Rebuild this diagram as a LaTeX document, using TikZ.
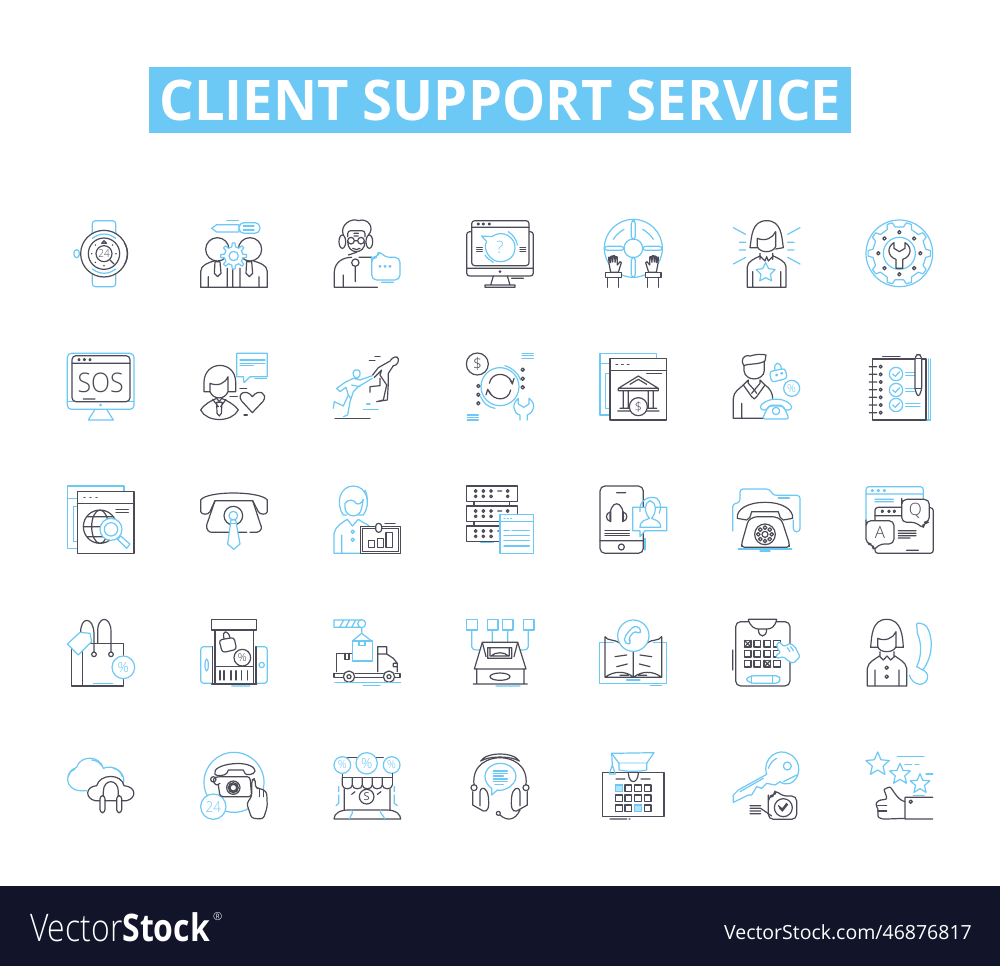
\documentclass[tikz,border=0pt]{standalone}
\usepackage{fontspec}
\setmainfont{Open Sans}
\newfontfamily\lightf{Open Sans Light}
\usetikzlibrary{calc}
\definecolor{ink}{HTML}{4B4B57}
\definecolor{sky}{HTML}{6CC8F5}
\definecolor{band}{HTML}{12142A}
\tikzset{
 dk/.style={draw=ink,line width=1.2pt,line cap=round,line join=round},
 bl/.style={draw=sky,line width=1.2pt,line cap=round,line join=round},
 wf/.style={fill=white},
 crop/.style 2 args={shift={(#1,#2)},x=.33333pt,y=-.33333pt},
 rc/.style={rounded corners=3pt},
 lab/.style={inner sep=0pt,text=ink},
 labb/.style={inner sep=0pt,text=sky}
}
\newcommand\igear[6]{%
 \pgfmathsetmacro\hw{90/#5}%
 \draw[#6,fill=white] ({#1+#3*cos(\hw)},{#2+#3*sin(\hw)})
  \foreach \i [evaluate=\i as \a using {360*\i/#5}] in {1,...,#5}{
   -- ({#1+#3*cos(\a-\hw)},{#2+#3*sin(\a-\hw)})
   -- ({#1+#4*cos(\a-.55*\hw)},{#2+#4*sin(\a-.55*\hw)})
   -- ({#1+#4*cos(\a+.55*\hw)},{#2+#4*sin(\a+.55*\hw)})
   -- ({#1+#3*cos(\a+\hw)},{#2+#3*sin(\a+\hw)})
  } -- cycle;}
\newcommand\istar[5]{\draw[#5,fill=white] (#1,#2)+(270:#3) -- +(306:#4) -- +(342:#3) -- +(18:#4) -- +(54:#3) -- +(90:#4) -- +(126:#3) -- +(162:#4) -- +(198:#3) -- +(234:#4) -- cycle;}
\newcommand\pctxt[5]{\node[#4,font=\lightf\fontsize{#3}{#3}\selectfont] (#5) at (#1,#2) {\%};}
\begin{document}
\begin{tikzpicture}[x=1pt,y=-1pt]
\path[use as bounding box,fill=white] (0,0) rectangle (1000,966);
\fill[band] (0,886) rectangle (1000,966);
\fill[sky] (149,67) rectangle (851,133);
\node[inner sep=0pt,text=white,font=\fontsize{56}{56}\bfseries\selectfont,xscale=0.97] (title) at (500.5,100) {CLIENT SUPPORT SERVICE};
\node[inner sep=0pt,anchor=base west,text=white,font=\fontsize{38}{38}\selectfont,xscale=.84] (vs) at (30,941) {{\lightf Vector}\textbf{Stock}};
\node[inner sep=0pt,anchor=base west,text=white,font=\lightf\fontsize{11}{11}\selectfont] (vsr) at (213,920) {®};
\node[inner sep=0pt,anchor=base east,text=white,font=\fontsize{19.5}{19.5}\selectfont,xscale=1] (vsu) at (972,939) {VectorStock.com/46876817};

%% ---------- crop A: rows 1-2 left
\begin{scope}[crop={50}{200}]
% watch
\draw[bl,wf,rc] (127,112) -- (127,62) -- (197,62) -- (197,112);
\draw[bl,wf,rc] (127,210) -- (127,260) -- (197,260) -- (197,210);
\draw[dk,wf] (162,161) circle[radius=70];
\draw[dk] (224,130) .. controls (236,150) and (236,172) .. (224,192);
\draw[bl] (127,115) .. controls (150,98) and (175,98) .. (197,115);
\draw[bl] (127,207) .. controls (150,224) and (175,224) .. (197,207);
\draw[bl,rc] (72,149) rectangle (88,173);
\draw[dk] (162,161) circle[radius=47] (162,161) circle[radius=24];
\node[lab,font=\lightf\fontsize{11}{11}\selectfont,xscale=.9] (t24a) at (162,161) {24};
\draw[dk] (155,130) -- (162,122) -- (170,130) -- cycle (180,180) -- (192,192);
\fill[ink] (125,161) circle[radius=2.5] (198,161) circle[radius=2.5] (162,197) circle[radius=2.5] (136,135) circle[radius=2.5] (188,135) circle[radius=2.5] (136,187) circle[radius=2.5];
% team and gear
\draw[bl,wf] (485,85) -- (500,74) -- (567,74) -- (567,96) -- (500,96) -- cycle;
\draw[bl,wf,rounded corners=5pt] (567,68) -- (630,68) -- (630,100) -- (567,100) -- cycle;
\draw[bl] (580,78) -- (612,78) (580,90) -- (612,90) (530,62) -- (565,62);
\draw[dk,wf] (502,148) circle[radius=35] (600,148) circle[radius=35];
\draw[dk] (452,262) -- (452,215) .. controls (452,195) and (475,188) .. (495,182) (652,262) -- (652,215) .. controls (652,195) and (628,188) .. (608,182) (452,262) -- (652,262) (475,262) -- (475,230) (627,262) -- (627,230) (532,262) -- (532,205) (548,262) -- (548,205) (570,262) -- (570,205);
\draw[dk] (495,185) -- (510,185) -- (513,220) -- (503,230) -- (493,220) -- cycle (590,185) -- (605,185) -- (608,220) -- (598,230) -- (588,220) -- cycle;
\igear{551}{168}{28}{39}{8}{bl}
\draw[bl] (551,168) circle[radius=14];
% woman with headset
\draw[dk] (880,105) .. controls (868,75) and (905,52) .. (925,62) .. controls (955,52) and (975,85) .. (955,105);
\draw[dk,rc] (893,110) -- (893,92) -- (945,92) -- (945,110);
\draw[dk] (893,125) .. controls (893,165) and (945,165) .. (945,125);
\draw[dk] (877,125) ellipse[x radius=10,y radius=20] (958,125) ellipse[x radius=10,y radius=20];
\draw[dk] (903,122) circle[radius=10] (933,122) circle[radius=10] (913,122) -- (923,122) (912,100) -- (925,100) (912,108) -- (925,108) (908,145) .. controls (915,150) and (925,150) .. (930,145) (895,165) -- (920,157);
\draw[dk] (916,188) circle[radius=11] (916,199) -- (916,245) (880,262) -- (880,225);
\draw[dk] (853,262) -- (853,215) .. controls (855,185) and (880,172) .. (905,172) (927,172) -- (965,172) (853,262) -- (982,262);
\draw[bl,wf,rounded corners=5pt] (965,185) -- (965,240) -- (1050,240) -- (1050,172) -- (1005,172) -- (985,150) -- (985,172) -- (965,172) -- cycle;
\draw[bl] (990,199) circle[radius=2.5] (1005,199) circle[radius=2.5] (1020,199) circle[radius=2.5] (995,247) -- (1030,247);
% SOS monitor
\draw[bl,rounded corners=4pt] (52,460) rectangle (252,628);
\draw[bl] (52,605) -- (252,605);
\draw[dk,wf,rounded corners=4pt] (66,467) rectangle (240,605);
\draw[dk] (66,490) -- (240,490) (87,479) circle[radius=3] (103,479) circle[radius=3] (120,479) circle[radius=3] (100,597) -- (135,597);
\node[lab,font=\lightf\fontsize{27}{27}\selectfont,xscale=.92] (sos) at (152,550) {SOS};
\fill[sky] (152,615) circle[radius=4.5];
\draw[bl] (135,628) -- (115,660) -- (190,660) -- (170,628);
% woman heart
\draw[dk] (480,575) -- (462,575) -- (462,545) .. controls (465,480) and (555,480) .. (557,545) -- (557,575) -- (535,575);
\draw[dk] (480,550) -- (480,575) .. controls (490,600) and (525,600) .. (534,575) -- (534,530) .. controls (525,550) and (505,560) .. (480,550);
\draw[dk] (452,630) .. controls (465,610) and (485,602) .. (500,595) -- (508,605) -- (515,595) .. controls (530,602) and (550,610) .. (565,630) .. controls (545,668) and (470,668) .. (452,630) -- cycle;
\draw[dk] (500,607) -- (516,607) -- (514,640) -- (508,648) -- (501,640) -- cycle (488,598) -- (505,620) (528,598) -- (512,620);
\draw[bl] (560,460) -- (652,460) -- (652,530) -- (600,530) -- (582,548) -- (580,530) -- (560,530) -- cycle;
\draw[bl] (570,480) -- (645,480) (570,490) -- (645,490) (570,497) -- (610,497) (615,535) -- (650,535);
\draw[dk] (607,638) -- (575,603) .. controls (558,580) and (590,565) .. (607,590) .. controls (625,565) and (655,580) .. (640,603) -- cycle;
\draw[dk] (570,565) -- (590,565) (540,590) -- (562,590) (582,645) -- (592,645);
% running
\draw[bl,rc] (907,513) -- (925,507) -- (933,520) -- (925,535) -- (913,535) -- cycle;
\draw[bl] (967,527) -- (930,540) -- (910,535) -- (885,547) -- (860,565) -- (870,575) -- (888,562) -- (895,585) -- (880,618) -- (853,605) -- (850,625);
\draw[bl] (967,535) -- (925,560) -- (910,575) -- (900,605) -- (893,645) -- (880,650) (895,585) -- (902,595) (930,560) -- (905,555);
\draw[dk,rc] (1022,480) -- (1035,468) -- (1048,475) -- (1040,497) -- (1030,497);
\draw[dk] (1022,482) -- (985,503) -- (968,525) (973,532) -- (995,510) -- (990,525) -- (1010,555) -- (1000,600) -- (980,605) (1030,497) -- (1015,520) -- (1015,550) -- (1012,600) -- (980,605) (990,535) -- (990,557) -- (960,560) -- (960,577);
\draw[dk] (958,482) -- (975,482) (975,470) -- (990,470) (855,655) -- (960,655);
\draw[bl] (950,612) -- (960,612) (940,628) -- (985,628);
\end{scope}

%% ---------- crop B: rows 1-2 right
\begin{scope}[crop={450}{200}]
% monitor with question
\draw[dk,rc] (65,95) -- (50,95) -- (50,228) -- (250,228) -- (250,95) -- (237,95);
\draw[dk,wf,rc] (65,62) rectangle (237,197);
\draw[dk] (65,82) -- (237,82) (50,205) -- (250,205) (85,72) circle[radius=3] (100,72) circle[radius=3] (118,72) circle[radius=3] (130,228) -- (122,255) (172,228) -- (180,255) (105,255) rectangle (195,262) (185,235) -- (220,235);
\fill[ink] (150,215) circle[radius=4.5];
\draw[dk] (80,143) -- (97,143) (80,149) -- (97,149) (80,155) -- (97,155) (210,143) -- (227,143) (210,149) -- (227,149) (210,155) -- (227,155);
\draw[bl,wf] (95,108) -- (125,110) .. controls (160,85) and (197,115) .. (195,143) .. controls (195,175) and (165,192) .. (135,182) .. controls (110,170) and (100,140) .. (110,125) -- cycle;
\draw[bl] (175,95) .. controls (190,105) and (200,120) .. (202,135) (105,165) .. controls (112,175) and (120,182) .. (130,187);
\node[labb,font=\lightf\fontsize{17}{17}\selectfont] (q1) at (150,141) {?};
% lifebuoy
\draw[bl] (550,145) circle[radius=87] (550,145) circle[radius=28];
\draw[bl,wf,rc] (544,62) rectangle (556,118) (544,172) rectangle (556,232) (463,139) rectangle (522,151) (578,139) rectangle (637,151);
\draw[bl] (490,118) .. controls (498,105) and (510,95) .. (522,88) (610,118) .. controls (602,105) and (590,95) .. (578,88);
\draw[dk,wf] (482,217) -- (477,190) -- (476,172) -- (479,172) -- (482,188) -- (482,170) -- (486,168) -- (488,186) -- (490,167) -- (494,167) -- (495,187) -- (498,170) -- (502,171) -- (502,195) -- (510,185) -- (514,188) -- (505,217) -- cycle;
\draw[dk,wf] (619,217) -- (624,190) -- (625,172) -- (622,172) -- (619,188) -- (619,170) -- (615,168) -- (613,186) -- (611,167) -- (607,167) -- (606,187) -- (603,170) -- (599,171) -- (599,195) -- (591,185) -- (587,188) -- (596,217) -- cycle;
\draw[dk,wf] (467,217) rectangle (515,232) (587,217) rectangle (633,232);
\draw[dk] (472,232) -- (472,262) (505,232) -- (505,262) (592,232) -- (592,262) (625,232) -- (625,262);
% woman star
\draw[dk] (922,143) -- (900,143) .. controls (905,110) and (905,62) .. (950,62) .. controls (995,62) and (995,110) .. (1000,143) -- (977,147);
\draw[dk] (922,115) -- (922,140) .. controls (930,160) and (968,160) .. (977,140) -- (977,95) .. controls (968,115) and (945,125) .. (922,115);
\draw[dk] (930,160) -- (930,178) (968,160) -- (968,178) (930,168) -- (945,183) -- (950,170) -- (955,183) -- (970,168);
\draw[dk] (892,262) -- (892,200) .. controls (892,185) and (915,175) .. (930,168) (1008,262) -- (1008,200) .. controls (1008,185) and (985,175) .. (970,168) (892,262) -- (1008,262) (908,262) -- (908,215) (992,262) -- (992,215);
\istar{947}{218}{30}{15}{bl}
\draw[bl] (850,83) -- (887,103) (868,127) -- (887,127) (868,150) -- (887,150) (850,192) -- (887,172) (1050,83) -- (1013,103) (1013,127) -- (1032,127) (1013,150) -- (1032,150) (1050,192) -- (1013,172);
% gear wrench
\draw[bl] (1348,160) circle[radius=100];
\igear{1348}{160}{80}{94}{10}{bl}
\draw[bl] (1348,160) circle[radius=48];
\foreach \a in {0,45,...,315} {\draw[dk] (1348,160)+(\a:63) circle[radius=5];}
\draw[dk,wf] (1332,128) .. controls (1310,140) and (1312,170) .. (1338,178) -- (1338,205) -- (1358,205) -- (1358,178) .. controls (1385,170) and (1387,140) .. (1365,128) -- (1365,145) -- (1348,155) -- (1332,145) -- cycle;
% money cycle
\draw[dk] (82,492) circle[radius=33];
\node[lab,font=\lightf\fontsize{16}{16}\selectfont] (dol) at (82,492) {\$};
\draw[bl] (150,560) circle[radius=57] (165,497) .. controls (185,502) and (205,520) .. (212,540) (92,590) .. controls (100,610) and (115,622) .. (135,625);
\draw[dk] (118,550) .. controls (125,515) and (170,515) .. (185,545) (178,535) -- (187,552) -- (192,535) (182,570) .. controls (175,605) and (130,605) .. (115,572) (108,585) -- (113,568) -- (123,582);
\foreach \x/\y in {218/509,218/536,218/562,85/558,85/584,85/610} {\draw[dk] (\x,\y) circle[radius=5];}
\draw[bl] (216,460) -- (250,460) (216,467) -- (250,467) (216,475) -- (250,475) (52,645) -- (85,645) (52,652) -- (85,652) (52,660) -- (85,660);
\draw[bl,wf] (210,660) -- (210,645) .. controls (190,640) and (183,612) .. (205,595) -- (205,612) -- (221,622) -- (237,612) -- (237,595) .. controls (258,610) and (255,635) .. (232,645) -- (232,660);
% bank
\draw[bl] (450,460) rectangle (620,645);
\draw[bl] (450,490) -- (480,490) (480,520) -- (467,520) -- (467,625) -- (480,625);
\draw[dk,wf] (480,475) rectangle (650,660);
\draw[dk] (480,512) -- (650,512) (590,520) -- (635,520) (498,493) -- (503,493) (515,493) -- (520,493) (532,493) -- (537,493);
\draw[dk] (505,565) -- (565,528) -- (625,565) -- cycle (540,553) -- (565,538) -- (590,553) (505,565) rectangle (625,572) (520,572) -- (520,625) (535,572) -- (535,625) (595,572) -- (595,625) (610,572) -- (610,625) (510,625) -- (620,625) (503,633) -- (627,633);
\draw[dk,wf] (565,620) circle[radius=27];
\node[lab,font=\lightf\fontsize{13}{13}\selectfont] (ds) at (565,620) {\$};
% man phone
\draw[dk] (882,497) .. controls (870,480) and (880,463) .. (900,468) .. controls (920,462) and (935,462) .. (948,465) -- (945,483) .. controls (925,495) and (895,490) .. (882,497);
\draw[dk] (882,497) -- (882,512) .. controls (885,545) and (940,545) .. (943,512) -- (943,483);
\draw[dk] (850,655) -- (850,595) .. controls (850,575) and (870,565) .. (880,555) -- (895,540) -- (895,550) -- (913,570) -- (930,550) -- (930,540) -- (945,555) .. controls (960,565) and (968,580) .. (968,595);
\draw[dk] (880,555) -- (905,590) -- (913,597) -- (920,590) -- (945,555) (850,655) -- (940,655) (875,655) -- (875,610) (905,580) -- (913,570) -- (920,580);
\draw[bl,wf,rc] (958,515) -- (1005,505) -- (1012,535) -- (965,547) -- cycle;
\draw[bl] (975,512) .. controls (970,485) and (990,480) .. (995,508) (980,525) circle[radius=2.5] (995,520) circle[radius=2.5];
\draw[bl] (1025,565) circle[radius=24];
\pctxt{1025}{565}{11}{labb}{pc1}
\draw[bl,wf,rc] (955,618) -- (937,657) -- (1018,657) -- (1000,618) -- cycle;
\draw[bl,wf,rc] (932,630) .. controls (930,610) and (960,598) .. (978,598) .. controls (1000,598) and (1025,610) .. (1025,630) -- (1002,630) -- (1000,616) -- (955,616) -- (953,630) -- cycle;
\draw[bl] (978,633) circle[radius=11];
% notebook
\draw[bl] (1435,477) -- (1435,660) (1442,477) -- (1442,660) -- (1428,660);
\draw[dk,wf] (1267,477) rectangle (1428,660);
\draw[dk] (1298,470) -- (1350,470);
\foreach \y in {500,523,546,569,592,615,638} {\draw[dk] (1292,\y) circle[radius=4.5] (1258,\y) -- (1280,\y);}
\foreach \y in {522,570,615} {\draw[bl] (1338,\y) circle[radius=20] (1328,\y) -- (1336,\y+7) -- (1349,\y-7);}
\draw[bl] (1367,517) -- (1393,517) (1367,527) -- (1393,527) (1367,565) -- (1393,565) (1367,575) -- (1393,575) (1367,610) -- (1410,610) (1367,620) -- (1410,620);
\draw[dk,wf,rc] (1395,570) -- (1395,470) -- (1405,460) -- (1415,470) -- (1415,570) -- (1405,592) -- cycle;
\draw[dk] (1395,475) -- (1415,475) (1395,565) -- (1415,565);
\end{scope}

%% ---------- crop C: rows 3-4 left
\begin{scope}[crop={50}{470}]
% web globe
\draw[bl] (52,48) rectangle (222,235) (52,85) -- (82,85) (82,110) -- (70,110) -- (70,215) -- (82,215);
\draw[dk,wf] (82,65) rectangle (252,250);
\draw[dk] (82,100) -- (252,100) (102,83) -- (105,83) (120,83) -- (123,83) (138,83) -- (141,83) (198,118) -- (235,118) (198,128) -- (235,128);
\draw[dk] (150,170) circle[radius=50] (150,170) ellipse[x radius=25,y radius=50] (100,170) -- (200,170) (112,140) -- (188,140) (112,200) -- (188,200);
\draw[bl,wf] (183,178) circle[radius=33];
\draw[bl] (183,178) circle[radius=20];
\draw[bl,wf] (212,198) -- (240,222) -- (230,235) -- (203,208) -- cycle;
% phone tie
\draw[dk] (480,125) .. controls (475,135) and (455,135) .. (452,125) -- (452,90) .. controls (470,62) and (630,62) .. (652,90) -- (652,125) .. controls (650,135) and (630,135) .. (625,125) -- (608,92) -- (495,92) -- cycle;
\draw[dk] (495,92) -- (470,165) .. controls (468,180) and (478,187) .. (485,187) -- (537,187) (565,187) -- (590,187) (600,187) -- (620,187) .. controls (635,185) and (637,170) .. (632,165) -- (608,92);
\draw[dk] (550,137) circle[radius=28];
\draw[bl] (550,137) circle[radius=13];
\draw[bl,wf] (543,150) -- (557,150) -- (570,222) -- (551,238) -- (533,222) -- cycle;
\draw[bl] (544,160) -- (556,160);
% woman chart
\draw[bl] (880,135) .. controls (855,100) and (870,48) .. (910,48) .. controls (950,48) and (965,100) .. (940,135) -- (925,135) (880,135) -- (890,135);
\draw[bl] (885,100) .. controls (895,85) and (915,90) .. (918,100) .. controls (925,105) and (935,100) .. (940,88) (885,100) -- (885,115) .. controls (890,145) and (930,145) .. (935,115) -- (940,88) (945,60) .. controls (950,70) and (952,80) .. (952,90);
\draw[bl] (852,250) -- (852,190) .. controls (855,170) and (880,155) .. (892,148) -- (907,168) -- (925,148) .. controls (935,155) and (945,160) .. (957,167) (852,250) -- (930,250) (875,250) -- (875,195) (908,185) circle[radius=5] (908,209) circle[radius=5];
\draw[dk,wf] (932,170) rectangle (1052,250) (938,176) rectangle (1046,244);
\draw[dk] (955,212) rectangle (973,232) (982,205) rectangle (1000,232) (1008,188) rectangle (1028,232) (1005,160) -- (1035,160);
\draw[dk,wf,rc] (977,160) rectangle (995,187);
% bag
\draw[dk] (65,520) rectangle (220,648) (97,520) -- (97,648);
\draw[dk] (132,546) -- (132,490) .. controls (130,438) and (90,438) .. (92,490) (183,546) -- (183,485) .. controls (183,435) and (140,435) .. (143,490) -- (143,518);
\draw[dk] (132,553) circle[radius=7] (183,553) circle[radius=7];
\draw[bl,wf] (52,522) -- (90,487) -- (120,490) -- (125,515) -- (85,555) -- cycle;
\draw[bl,wf] (220,592) circle[radius=34];
\pctxt{220}{592}{14}{labb}{pc2}
\draw[bl] (130,640) -- (188,640);
% mobile store
\draw[bl,rc] (487,530) -- (452,530) -- (452,640) -- (487,640) (618,530) -- (652,530) -- (652,640) -- (618,640);
\draw[bl] (470,585) ellipse[x radius=5,y radius=18] (635,585) circle[radius=8] (545,648) -- (600,648);
\draw[dk] (485,448) rectangle (620,480) (495,480) -- (495,642) (610,480) -- (610,642) (487,530) -- (487,642) (618,530) -- (618,642) (485,642) -- (620,642) (495,590) -- (610,590);
\foreach \x in {510,522,543,558,574,592} {\draw[dk] (\x,602) -- (\x,630);}
\draw[dk,wf,rc] (507,510) -- (552,502) -- (560,538) -- (517,548) -- cycle;
\draw[dk] (522,506) .. controls (515,478) and (535,480) .. (540,503);
\draw[dk,wf] (577,563) circle[radius=25];
\pctxt{577}{563}{11}{lab}{pc3}
% truck
\draw[bl] (852,450) rectangle (935,472) (870,470) -- (880,452) (888,470) -- (898,452) (906,470) -- (916,452);
\draw[bl,wf] (935,461) circle[radius=12];
\draw[bl] (935,473) -- (935,490) (907,513) -- (935,490) -- (965,513);
\draw[dk] (860,605) -- (860,550) -- (907,550) (885,550) -- (885,568) -- (897,568) -- (897,550);
\draw[dk] (983,605) -- (983,530) -- (1010,530) -- (1010,552) -- (1030,565) -- (1042,580) -- (1042,605) (1030,580) rectangle (1042,590) (983,552) -- (1010,552);
\draw[dk] (852,610) -- (880,610) (915,610) -- (1000,610) (1035,610) -- (1050,610) -- (1050,622) -- (1035,622) (915,622) -- (1000,622) (852,622) -- (880,622) (852,610) -- (852,622);
\draw[dk] (897,620) circle[radius=17] (897,620) circle[radius=6] (1017,620) circle[radius=17] (1017,620) circle[radius=6];
\draw[bl,wf] (907,513) rectangle (967,573);
\draw[bl] (927,513) -- (927,527) -- (945,527) -- (945,513) (855,638) -- (1052,638) (940,646) -- (990,646);
\end{scope}

%% ---------- crop D: rows 3-4 right
\begin{scope}[crop={450}{470}]
% servers
\foreach \y in {48,108,168} {\draw[dk] (50,\y) rectangle (202,\y+46);
 \foreach \x in {77,100,123} {\draw[dk] (\x,\y+15) circle[radius=4] (\x,\y+31) circle[radius=4];}
 \draw[dk] (173,\y+15) circle[radius=4] (173,\y+31) circle[radius=4] (143,\y+15) -- (155,\y+15);}
\draw[dk] (72,95) -- (72,108) (178,95) -- (178,108) (72,155) -- (72,168) (178,155) -- (178,168);
\draw[bl,wf] (150,133) rectangle (250,250);
\draw[bl] (150,155) -- (250,155) (162,145) -- (165,145) (172,145) -- (175,145) (182,145) -- (185,145) (162,182) -- (178,182) (186,182) -- (238,182) (162,197) -- (238,197) (162,212) -- (238,212) (162,228) -- (238,228) (92,218) -- (130,218);
% mobile
\draw[dk,rounded corners=5pt] (450,48) rectangle (580,250);
\draw[dk] (500,68) -- (527,68) (514,231) circle[radius=9] (450,212) -- (580,212);
\draw[dk] (480,150) .. controls (475,85) and (525,85) .. (520,150);
\draw[dk] (482,125) .. controls (465,130) and (465,150) .. (482,155) -- cycle (518,125) .. controls (535,130) and (535,150) .. (518,155) -- cycle;
\draw[dk] (465,182) -- (538,182) (465,190) -- (538,190) (465,197) -- (538,197);
\draw[bl,wf] (548,112) -- (650,112) -- (650,182) -- (585,182) -- (570,200) -- (570,182) -- (548,182) -- cycle;
\draw[bl] (585,240) -- (585,205) (548,130) -- (548,112);
\draw[bl,wf] (570,172) .. controls (570,150) and (590,150) .. (598,145) .. controls (580,125) and (585,95) .. (600,92) .. controls (618,95) and (622,125) .. (605,145) .. controls (612,150) and (632,150) .. (632,172) -- cycle;
\draw[bl] (570,125) .. controls (565,90) and (600,75) .. (620,85) .. controls (632,95) and (635,110) .. (628,130);
% folder phone
\draw[bl,rc] (848,183) -- (848,102) -- (870,97) -- (870,57) -- (958,57) -- (970,76) -- (1050,76) -- (1050,185) -- (1030,185) -- (1030,150);
\draw[bl] (985,84) -- (1018,84) (865,237) -- (1025,237) (930,243) -- (960,243);
\draw[dk,wf,rc] (895,150) -- (875,220) -- (875,232) -- (1018,232) -- (1018,220) -- (995,150) -- (975,140) -- (915,140) -- cycle;
\draw[dk,wf] (862,145) .. controls (858,120) and (890,97) .. (945,97) .. controls (1000,97) and (1030,120) .. (1028,145) -- (1000,150) .. controls (990,148) and (990,140) .. (985,125) -- (905,125) .. controls (900,140) and (900,148) .. (890,150) -- cycle;
\draw[dk] (945,193) circle[radius=31] (945,193) circle[radius=9];
\foreach \a in {0,45,...,315} {\draw[dk] (945,193)+(\a:20) circle[radius=5.5];}
% QA
\draw[bl,rc] (1248,150) -- (1248,50) -- (1420,50) -- (1420,112);
\draw[bl] (1248,72) -- (1420,72) (1267,62) circle[radius=3] (1285,62) circle[radius=3] (1303,62) circle[radius=3] (1275,88) -- (1330,88) (1275,95) -- (1330,95);
\draw[dk,rc] (1275,152) -- (1275,112) -- (1360,112) (1437,113) -- (1450,113) -- (1450,250) -- (1275,250) -- (1275,222);
\draw[dk] (1275,137) -- (1355,137) (1297,124) circle[radius=3.5] (1317,124) circle[radius=3.5] (1333,124) circle[radius=3.5] (1345,182) -- (1398,182) (1345,190) -- (1398,190) (1345,197) -- (1398,197) (1345,204) -- (1380,204) (1370,241) -- (1405,241);
\draw[dk,wf,rounded corners=5pt] (1248,165) -- (1248,222) -- (1270,222) -- (1270,243) -- (1288,222) -- (1332,222) -- (1332,152) -- (1248,152) -- cycle;
\draw[dk,wf,rounded corners=5pt] (1355,100) -- (1355,157) -- (1400,157) -- (1420,178) -- (1420,157) -- (1438,157) -- (1438,88) -- (1355,88) -- cycle;
\node[lab,font=\lightf\fontsize{17}{17}\selectfont] (qa) at (1290,187) {A};
\node[lab,font=\lightf\fontsize{17}{17}\selectfont] (qq) at (1396,122) {Q};
% box
\foreach \x in {50,112,157,220} {\draw[bl] (\x,448) rectangle (\x+32,480);}
\draw[bl] (65,480) -- (65,530) .. controls (65,538) and (70,540) .. (90,540) (127,480) -- (127,517) (173,480) -- (173,517) (235,480) -- (235,530) .. controls (235,538) and (230,540) .. (210,540) (138,648) -- (210,648);
\draw[dk,wf] (97,517) -- (203,517) -- (228,597) -- (73,597) -- cycle;
\draw[dk] (97,517) -- (108,560) (203,517) -- (192,560) (113,533) rectangle (185,565) (120,533) rectangle (178,558) (123,558) .. controls (135,545) and (165,545) .. (175,558) (80,597) -- (80,642) (222,597) -- (222,642) (70,642) -- (232,642) (150,620) ellipse[x radius=30,y radius=11];
% book
\draw[bl] (490,517) -- (448,517) -- (448,640) -- (650,640) -- (650,517) -- (610,517) (600,646) -- (635,646) (530,630) -- (570,630);
\draw[dk] (465,500) .. controls (475,515) and (490,505) .. (510,520) (635,500) .. controls (625,515) and (610,505) .. (590,520) (465,500) -- (465,622) (635,500) -- (635,622) (465,622) .. controls (490,602) and (530,602) .. (550,622) .. controls (575,602) and (610,602) .. (635,622) (550,545) -- (550,622) (465,622) -- (635,622) (495,560) -- (530,555) (570,555) -- (605,560) (500,590) -- (532,582) (568,582) -- (600,590) (510,616) -- (535,616) (565,616) -- (590,616);
\draw[bl,wf] (550,497) circle[radius=47];
\draw[bl,rc] (523,515) -- (535,525) -- (543,515) -- (535,505) -- (555,482) -- (566,492) -- (575,482) -- (562,468) .. controls (545,472) and (525,495) .. (523,515) -- cycle;
% tablet
\draw[dk,rounded corners=5pt] (857,455) rectangle (1020,648);
\draw[dk,wf] (895,448) .. controls (900,470) and (915,477) .. (925,477) -- (950,477) .. controls (965,477) and (975,470) .. (980,448) -- cycle (925,477) .. controls (925,505) and (950,505) .. (950,477) (848,540) -- (848,600);
\foreach \x in {883,912,942,971} {\foreach \y in {511,541,571} {\draw[dk] (\x,\y) rectangle (\x+20,\y+20);}}
\draw[dk] (883,511) -- (903,531) (903,511) -- (883,531) (942,571) -- (962,591) (962,571) -- (942,591);
\draw[bl,wf,rc] (885,628) -- (905,617) -- (985,617) -- (992,628) -- (985,640) -- (905,640) -- cycle;
\draw[bl] (905,617) -- (905,640) (968,617) -- (968,640);
\draw[bl,wf,rounded corners=1.5pt] (982,520) -- (988,515) -- (1002,530) -- (1020,520) -- (1035,530) -- (1050,560) -- (1030,580) -- (1018,575) -- (1000,560) -- (980,565) -- (978,555) -- (992,548) -- (980,532) -- cycle;
\draw[bl] (1012,533) -- (1020,545) (1022,530) -- (1030,542);
% woman phone
\draw[dk] (1285,532) -- (1262,532) .. controls (1265,500) and (1265,448) .. (1310,448) .. controls (1355,448) and (1358,500) .. (1360,532) -- (1338,532);
\draw[dk] (1283,505) -- (1283,530) .. controls (1290,550) and (1330,550) .. (1338,530) -- (1338,485) .. controls (1330,505) and (1305,515) .. (1283,505);
\draw[dk] (1290,545) -- (1290,560) (1332,545) -- (1332,560) (1288,558) -- (1300,570) -- (1311,558) -- (1322,570) -- (1335,558);
\draw[dk] (1252,648) -- (1252,595) .. controls (1255,575) and (1275,568) .. (1288,558) (1370,648) -- (1370,595) .. controls (1367,575) and (1347,568) .. (1335,558) (1252,648) -- (1370,648) (1275,648) -- (1275,600) (1347,648) -- (1347,600) (1310,593) circle[radius=5] (1310,620) circle[radius=5];
\draw[bl] (1400,462) .. controls (1400,458) and (1420,458) .. (1430,470) .. controls (1450,500) and (1450,560) .. (1418,600) .. controls (1438,605) and (1440,640) .. (1410,643) .. controls (1395,643) and (1382,630) .. (1378,615) (1400,462) -- (1402,490) .. controls (1420,530) and (1410,570) .. (1400,590) -- (1418,600);
\end{scope}

%% ---------- crop E: row 5 left
\begin{scope}[crop={50}{735}]
% cloud
\draw[bl] (110,167) -- (90,167) .. controls (45,165) and (40,110) .. (80,97) .. controls (90,60) and (150,60) .. (160,100) .. controls (190,85) and (230,115) .. (220,145);
\draw[bl] (55,125) .. controls (58,112) and (66,105) .. (75,102) (125,75) .. controls (138,75) and (148,82) .. (155,92) (190,100) .. controls (205,102) and (215,115) .. (217,125);
\draw[dk,wf] (135,197) .. controls (105,190) and (105,155) .. (140,152) .. controls (150,115) and (215,115) .. (222,152) .. controls (260,155) and (260,190) .. (230,197) -- cycle;
\draw[dk] (160,185) -- (160,170) .. controls (160,130) and (205,130) .. (205,170) -- (205,185);
\draw[dk,wf,rc] (150,182) rectangle (165,233) (200,182) rectangle (215,233);
\draw[dk] (165,197) -- (200,197);
% phone 24
\draw[bl] (552,142) circle[radius=90];
\draw[bl,wf] (490,215) circle[radius=38];
\node[labb,font=\lightf\fontsize{15}{15}\selectfont,xscale=.9] (t24b) at (490,215) {24};
\draw[dk,wf,rc] (510,125) .. controls (490,125) and (490,135) .. (490,145) .. controls (500,150) and (505,150) .. (510,145) (510,125) -- (600,125) -- (605,185) -- (510,185) -- (505,150);
\draw[dk] (490,133) circle[radius=8];
\draw[dk,wf] (495,118) .. controls (480,85) and (610,70) .. (615,108) .. controls (615,120) and (585,122) .. (585,115) -- (580,105) -- (535,105) -- (530,115) .. controls (525,122) and (500,125) .. (495,118) -- cycle;
\draw[dk] (550,158) circle[radius=20] (550,158) circle[radius=10] (550,158) circle[radius=15];
\draw[dk,wf,rc] (605,250) -- (590,205) -- (605,185) -- (605,135) -- (615,130) -- (617,160) -- (630,160) -- (650,170) -- (652,215) -- (640,252) -- cycle;
\draw[dk] (628,160) -- (628,185) (640,165) -- (640,185);
% shop
\draw[dk] (880,68) -- (1000,68) (877,115) -- (877,128);
\draw[bl,wf] (877,90) circle[radius=25] (950,85) circle[radius=32] (1025,90) circle[radius=25];
\pctxt{877}{90}{11}{labb}{pc4}
\pctxt{950}{85}{14}{labb}{pc5}
\pctxt{1025}{90}{11}{labb}{pc6}
\draw[dk] (877,128) -- (1027,128) (1027,115) -- (1027,150) (877,128) -- (877,150);
\foreach \x in {877,907,937,967,997} {\draw[dk] (\x,128) -- (\x,150) .. controls (\x,165) and (\x+30,165) .. (\x+30,150);}
\draw[dk] (883,162) -- (883,225) (1020,162) -- (1020,225) (852,252) -- (1052,252) (852,252) .. controls (852,235) and (870,225) .. (895,225) -- (1010,225) .. controls (1040,225) and (1052,240) .. (1052,252) (950,185) circle[radius=22] (905,178) -- (915,170) (982,178) -- (993,170);
\node[lab,font=\fontsize{11}{11}\selectfont] (sh) at (950,185) {S};
\draw[bl] (866,155) -- (866,170) (866,180) -- (866,205) -- (858,212) (1033,155) -- (1033,170) (1033,180) -- (1033,205) -- (1042,212) (898,252) .. controls (902,240) and (912,235) .. (905,225) (1005,252) .. controls (1000,240) and (988,235) .. (992,225);
\end{scope}

%% ---------- crop F: row 5 right
\begin{scope}[crop={450}{735}]
% headset
\draw[dk,wf] (92,78) .. controls (110,50) and (190,50) .. (208,78) .. controls (180,62) and (120,62) .. (92,78) -- cycle;
\draw[dk] (72,150) .. controls (65,85) and (120,68) .. (150,68) .. controls (180,68) and (235,85) .. (228,150);
\draw[dk] (72,158) circle[radius=9] (228,158) circle[radius=9];
\draw[dk,wf] (68,170) -- (68,210) -- (100,228) .. controls (115,232) and (118,215) .. (115,185) .. controls (112,160) and (95,150) .. (90,170) -- (90,212);
\draw[dk,wf] (232,170) -- (232,210) -- (200,228) .. controls (185,232) and (182,215) .. (185,185) .. controls (188,160) and (205,150) .. (210,170) -- (210,212);
\draw[dk] (145,235) circle[radius=6] (150,240) .. controls (170,258) and (195,258) .. (210,225);
\draw[bl,wf] (125,160) .. controls (85,130) and (110,85) .. (150,85) .. controls (195,85) and (215,130) .. (180,155) .. controls (165,165) and (150,168) .. (142,165) -- (125,180) -- cycle;
\draw[bl] (130,108) -- (172,108) (130,115) -- (172,115) (130,123) -- (160,123) (130,132) -- (172,132) (130,140) -- (172,140) (135,148) -- (160,148);
% calendar
\draw[dk,wf] (458,112) rectangle (642,245);
\draw[dk] (480,252) -- (530,252) (537,252) -- (540,252) (498,132) -- (525,132) (573,132) -- (600,132) (535,115) .. controls (537,148) and (563,148) .. (565,115);
\foreach \x in {497,525,554,583} {\foreach \y in {150,180,210} {\draw[dk] (\x,\y) rectangle (\x+20,\y+20);}}
\draw[bl,fill=sky!50] (497,150) rectangle (517,170) (554,210) rectangle (574,230);
\draw[bl,wf] (485,55) -- (612,53) -- (590,85) -- (507,85) -- cycle;
\draw[bl,wf] (507,85) -- (507,105) .. controls (530,110) and (570,110) .. (590,105) -- (590,85);
\draw[bl] (485,55) -- (487,90) (478,117) -- (487,90) -- (496,117) -- cycle;
% key
\draw[bl,wf] (950,118) .. controls (935,70) and (985,35) .. (1020,58) .. controls (1060,80) and (1050,135) .. (1020,145) .. controls (1010,148) and (1000,148) .. (990,140) -- (975,150) -- (950,145) -- (935,160) -- (920,155) -- (905,180) -- (895,180) -- (885,185) -- (850,202) -- (850,180) -- (865,165) -- cycle;
\draw[bl] (1012,93) circle[radius=12] (955,100) .. controls (960,85) and (970,75) .. (980,70) (940,130) -- (870,170) (1000,140) -- (1040,120);
\draw[dk,wf,rounded corners=5pt] (955,195) -- (955,253) -- (1040,253) -- (1040,183) -- (995,183) -- (975,163) -- (975,183) -- (955,183) -- cycle;
\draw[dk] (1000,218) circle[radius=27] (988,218) -- (997,228) -- (1013,208) (985,212) -- (997,222) -- (1010,205) (900,212) -- (932,212) (900,220) -- (932,220) (900,228) -- (932,228) (900,236) -- (932,236) (932,220) -- (965,243);
% thumb
\istar{1283}{88}{37}{17}{bl}
\istar{1350}{118}{33}{15}{bl}
\istar{1410}{147}{31}{14}{bl}
\draw[bl] (1342,65) -- (1422,65) (1365,88) -- (1385,88) (1395,88) -- (1407,88) (1428,117) -- (1448,117) (1390,182) -- (1422,182);
\draw[dk] (1448,187) -- (1365,187) -- (1365,252) -- (1448,252) (1382,200) circle[radius=5];
\draw[dk,rc] (1365,200) .. controls (1340,195) and (1325,155) .. (1310,158) .. controls (1300,165) and (1315,190) .. (1300,195) -- (1285,195) .. controls (1275,210) and (1285,222) .. (1283,235) .. controls (1285,250) and (1300,252) .. (1310,252) -- (1365,250);
\draw[dk] (1283,212) -- (1310,212) (1283,228) -- (1310,228);
\end{scope}
\end{tikzpicture}
\end{document}
